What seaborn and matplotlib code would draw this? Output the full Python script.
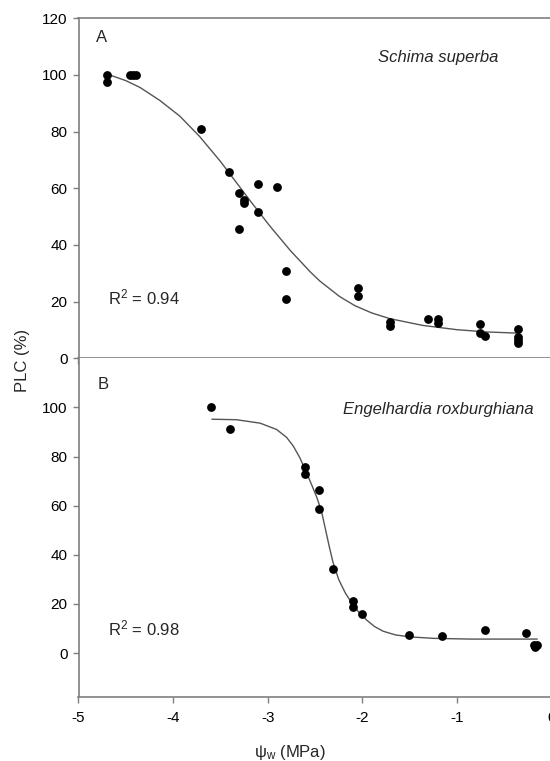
import numpy as np
import pandas as pd
import matplotlib
matplotlib.use("Agg")
import matplotlib.pyplot as plt
import seaborn as sns

# ---------------- data ----------------
# Panel A: Schima superba
a_psi = [-4.70, -4.70, -4.46, -4.42, -4.39, -3.70, -3.41, -3.30, -3.25, -3.25,
         -3.10, -2.905, -3.10, -3.30, -2.81, -2.81, -2.05, -2.05, -1.71, -1.71,
         -1.31, -1.20, -1.20, -0.756, -0.756, -0.70, -0.35, -0.35, -0.35, -0.35]
a_plc = [100.0, 97.4, 100.0, 100.0, 100.0, 80.8, 65.7, 58.2, 55.9, 54.8,
         61.4, 60.3, 51.5, 45.5, 30.8, 20.9, 24.9, 22.1, 12.7, 11.5,
         13.9, 13.8, 12.4, 12.1, 8.8, 7.9, 10.2, 7.6, 6.5, 5.3]
a_fit_psi = [-4.67, -4.50, -4.35, -4.14, -3.93, -3.72, -3.50, -3.33, -3.19, -2.98,
             -2.76, -2.55, -2.45, -2.24, -2.08, -1.90, -1.71, -1.36, -1.00, -0.685, -0.37]
a_fit_plc = [100.0, 98.0, 95.6, 91.0, 85.5, 78.3, 69.5, 62.0, 55.8, 46.8,
             38.0, 30.5, 27.3, 21.8, 18.6, 16.0, 14.0, 11.6, 10.1, 9.3, 8.9]

# Panel B: Engelhardia roxburghiana
b_psi = [-3.60, -3.40, -2.606, -2.606, -2.455, -2.455, -2.306, -2.10, -2.10, -2.006,
         -1.503, -1.154, -0.703, -0.27, -0.19, -0.15, -0.17]
b_plc = [100.2, 91.1, 75.6, 72.8, 66.4, 58.7, 34.3, 21.0, 18.9, 16.0,
         7.2, 7.0, 9.5, 8.1, 3.1, 3.1, 2.3]
b_fit_psi = [-3.59, -3.33, -3.08, -2.905, -2.80, -2.73, -2.66, -2.59, -2.53, -2.48,
             -2.43, -2.39, -2.35, -2.31, -2.25, -2.18, -2.11, -2.04, -1.95, -1.87,
             -1.78, -1.65, -1.50, -1.25, -0.86, -0.15]
b_fit_plc = [95.2, 95.0, 93.6, 91.0, 87.8, 84.3, 79.5, 73.5, 68.0, 63.3,
             57.5, 50.5, 43.5, 37.0, 30.0, 24.5, 20.3, 16.8, 13.3, 10.8,
             8.9, 7.4, 6.6, 6.0, 5.7, 5.7]

x_ticks = [-5, -4, -3, -2, -1, 0]
x_ticklabels = ['-5', '-4', '-3', '-2', '-1', '0']
a_yticks = [0, 20, 40, 60, 80, 100, 120]
b_yticks = [0, 20, 40, 60, 80, 100]

# ---------------- style ----------------
sns.set_style("ticks")
plt.rcParams['font.family'] = ['Liberation Sans', 'DejaVu Sans']
plt.rcParams['mathtext.fontset'] = 'custom'
plt.rcParams['mathtext.rm'] = 'Liberation Sans'
plt.rcParams['mathtext.it'] = 'Liberation Sans:italic'

SPINE = '#7f7f7f'
LINE = '#555555'

fig = plt.figure(figsize=(5.5, 7.61), dpi=100)
W, H = 550.0, 761.0
left = 78.5 / W
width = (551.5 - 78.5) / W
axA = fig.add_axes([left, 1 - 358.3 / H, width, (358.3 - 18.3) / H])
axB = fig.add_axes([left, 1 - 697.3 / H, width, (697.3 - 358.3) / H])


def style(ax):
    for s in ['left', 'bottom', 'top']:
        ax.spines[s].set_color(SPINE)
        ax.spines[s].set_linewidth(1.2)
    ax.spines['right'].set_visible(False)
    ax.tick_params(axis='both', direction='out', length=4, width=1, color=SPINE,
                   labelsize=11, labelcolor='black', pad=4)
    ax.tick_params(axis='x', pad=6)
    ax.set_xlim(-5, 0)
    ax.set_xticks(x_ticks)


def draw(ax, px, py, fx, fy):
    sns.lineplot(x=fx, y=fy, ax=ax, color=LINE, linewidth=1.0, sort=False,
                 estimator=None, zorder=2)
    sns.scatterplot(x=px, y=py, ax=ax, color='black', s=40, linewidth=0,
                    zorder=3, legend=False)


# Panel A
draw(axA, a_psi, a_plc, a_fit_psi, a_fit_plc)
style(axA)
axA.set_ylim(0, 120)
axA.set_yticks(a_yticks)
axA.tick_params(axis='x', labelbottom=False)
axA.set_xlabel('')
axA.set_ylabel('')
axA.text(-4.82, 113.4, 'A', fontsize=12, va='center', ha='left')
axA.text(-1.2, 106, 'Schima superba', fontsize=12, style='italic', ha='center', va='center')
axA.text(-4.69, 21.5, r'$\mathregular{R^2}$ = 0.94', fontsize=12, ha='left', va='center')

# Panel B
draw(axB, b_psi, b_plc, b_fit_psi, b_fit_plc)
style(axB)
axB.spines['top'].set_visible(False)
axB.set_ylim(-18, 120)
axB.set_yticks(b_yticks)
axB.set_xticklabels(x_ticklabels)
axB.set_xlabel('')
axB.set_ylabel('')
axB.text(-4.80, 109.5, 'B', fontsize=12, va='center', ha='left')
axB.text(-1.2, 99, 'Engelhardia roxburghiana', fontsize=12, style='italic', ha='center', va='center')
axB.text(-4.69, 10, r'$\mathregular{R^2}$ = 0.98', fontsize=12, ha='left', va='center')

fig.text(22 / W, 1 - 360 / H, 'PLC (%)', rotation=90, fontsize=12, ha='center', va='center')
fig.text(290 / W, 1 - 753 / H, r'$\mathregular{\psi_w}$ (MPa)', fontsize=12, ha='center', va='center')

fig.savefig('out.png', dpi=100)
